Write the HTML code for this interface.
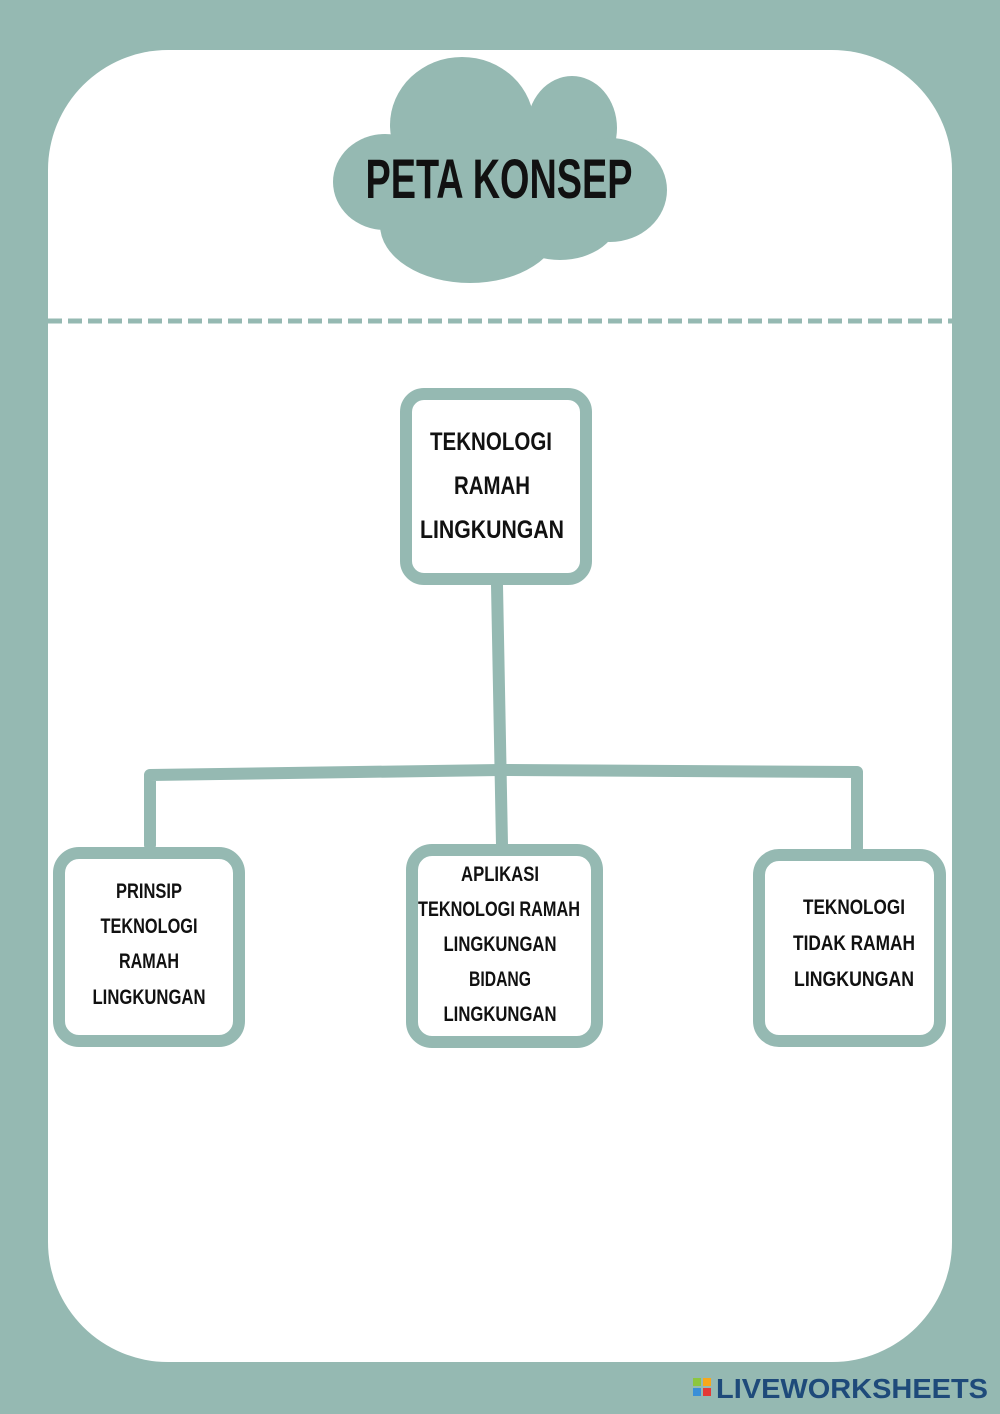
<!DOCTYPE html>
<html><head><meta charset="utf-8"><style>
html,body{margin:0;padding:0;background:#95b9b2;}
svg{display:block}
text{font-family:"Liberation Sans",sans-serif;fill:#111;text-anchor:middle}
</style></head><body>
<svg width="1000" height="1414" viewBox="0 0 1000 1414" xmlns="http://www.w3.org/2000/svg">
<rect x="0" y="0" width="1000" height="1414" fill="#95b9b2"/>
<rect x="48" y="50" width="904" height="1312" rx="120" ry="120" fill="#fff"/>
<line x1="48" y1="321" x2="952" y2="321" stroke="#95b9b2" stroke-width="5" stroke-dasharray="14,6"/>
<g fill="#95b9b2">
<ellipse cx="462" cy="125" rx="72" ry="68"/>
<ellipse cx="572" cy="128" rx="45" ry="52"/>
<ellipse cx="610" cy="190" rx="57" ry="52"/>
<ellipse cx="470" cy="225" rx="90" ry="58"/>
<ellipse cx="385" cy="182" rx="52" ry="48"/>
<ellipse cx="560" cy="215" rx="60" ry="45"/>
<rect x="390" y="140" width="230" height="100"/>
</g>
<text x="499" y="198" font-size="56" font-weight="bold" textLength="267" lengthAdjust="spacingAndGlyphs">PETA KONSEP</text>
<g fill="none" stroke="#95b9b2" stroke-width="12" stroke-linecap="round" stroke-linejoin="round">
<rect x="406" y="394" width="180" height="185" rx="18"/>
<line x1="497" y1="585" x2="502" y2="845"/>
<polyline points="150,845 150,775 500,770 857,772 857,848"/>
<rect x="59" y="853" width="180" height="188" rx="20"/>
<rect x="412" y="850" width="185" height="192" rx="20"/>
<rect x="759" y="855" width="181" height="186" rx="20"/>
</g>
<g font-size="25" font-weight="bold" lengthAdjust="spacingAndGlyphs">
<text x="491" y="450" textLength="122" lengthAdjust="spacingAndGlyphs">TEKNOLOGI</text>
<text x="492" y="494" textLength="76" lengthAdjust="spacingAndGlyphs">RAMAH</text>
<text x="492" y="538" textLength="144" lengthAdjust="spacingAndGlyphs">LINGKUNGAN</text>
</g>
<g font-size="21" font-weight="bold">
<text x="149" y="898" textLength="66" lengthAdjust="spacingAndGlyphs">PRINSIP</text>
<text x="149" y="933" textLength="97" lengthAdjust="spacingAndGlyphs">TEKNOLOGI</text>
<text x="149" y="968" textLength="60" lengthAdjust="spacingAndGlyphs">RAMAH</text>
<text x="149" y="1004" textLength="113" lengthAdjust="spacingAndGlyphs">LINGKUNGAN</text>
<text x="500" y="881" textLength="78" lengthAdjust="spacingAndGlyphs">APLIKASI</text>
<text x="499" y="916" textLength="162" lengthAdjust="spacingAndGlyphs">TEKNOLOGI RAMAH</text>
<text x="500" y="951" textLength="113" lengthAdjust="spacingAndGlyphs">LINGKUNGAN</text>
<text x="500" y="986" textLength="62" lengthAdjust="spacingAndGlyphs">BIDANG</text>
<text x="500" y="1021" textLength="113" lengthAdjust="spacingAndGlyphs">LINGKUNGAN</text>
<text x="854" y="914" textLength="102" lengthAdjust="spacingAndGlyphs">TEKNOLOGI</text>
<text x="854" y="950" textLength="122" lengthAdjust="spacingAndGlyphs">TIDAK RAMAH</text>
<text x="854" y="986" textLength="120" lengthAdjust="spacingAndGlyphs">LINGKUNGAN</text>
</g>
<g>
<rect x="693" y="1378" width="8" height="8" fill="#8dc63f"/>
<rect x="703" y="1378" width="8" height="8" fill="#f7a81b"/>
<rect x="693" y="1388" width="8" height="8" fill="#3a8fd8"/>
<rect x="703" y="1388" width="8" height="8" fill="#e53935"/>
<text x="852" y="1398" font-size="28" font-weight="bold" style="fill:#1e4a7a" textLength="272" lengthAdjust="spacingAndGlyphs">LIVEWORKSHEETS</text>
</g>
</svg>
</body></html>
